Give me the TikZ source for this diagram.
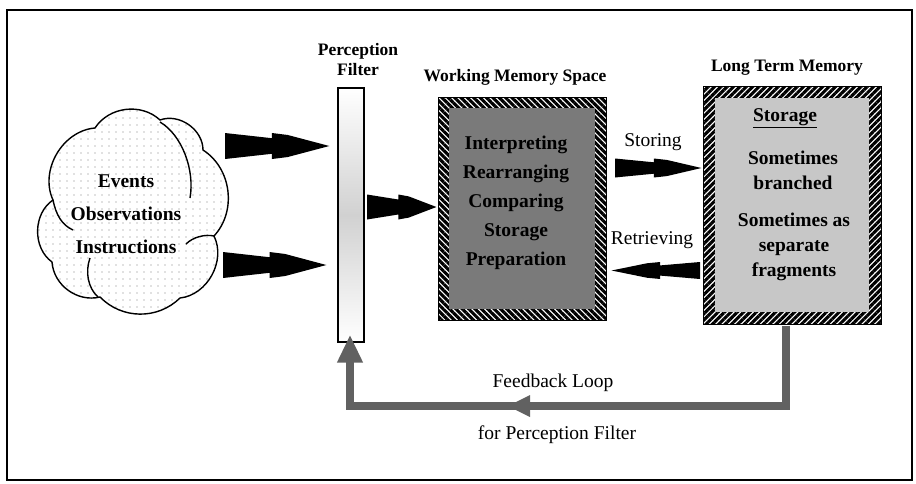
\documentclass[tikz,border=0pt]{standalone}
\usepackage{fontspec}
\setmainfont{Liberation Serif}
\usetikzlibrary{patterns,patterns.meta,arrows.meta,calc}
\newcommand\fatarrow[3]{%
  \fill[black] let \p1=(#1), \p2=(#2), \n1={\x2-\x1} in
    (\x1,\y1+#3pt) -- (\x1+0.45*\n1,\y1+0.6*#3pt) -- (\x1+0.45*\n1,\y1+#3pt)
    -- (\x1+0.6*\n1,\y1+0.85*#3pt) -- (\x2,\y1) -- (\x1+0.6*\n1,\y1-0.85*#3pt)
    -- (\x1+0.45*\n1,\y1-#3pt) -- (\x1+0.45*\n1,\y1-0.6*#3pt) -- (\x1,\y1-#3pt) -- cycle;}
\begin{document}
\begin{tikzpicture}[x=1pt,y=-1pt,
  titlelbl/.style={font=\bfseries\fontsize{17.5}{20}\selectfont, inner sep=0, align=center},
  boxtxt/.style={font=\bfseries\fontsize{19.5}{29}\selectfont, align=center, inner sep=0},
  plainlbl/.style={font=\fontsize{19.5}{22}\selectfont, inner sep=0},
  hatchbox/.style={draw, line width=0.8, inner sep=0, preaction={fill=white}},
  fbline/.style={line width=8, draw=black!62}]
\useasboundingbox (0,0) rectangle (916,483);
\draw[line width=2.5] (7,10) rectangle (912,480);

% cloud
\path[draw, line width=1.4, preaction={fill=white},
  pattern={Dots[distance=6.5pt, radius=0.6pt]}, pattern color=black!50]
 (53,200) to[bend left=55] (95,128) to[bend left=50] (160,120)
 to[bend left=55] (203,150) to[bend left=50] (214,236)
 to[bend left=55] (180,298) to[bend left=45] (100,297)
 to[bend left=50] (52,262) to[bend left=55] (53,200) -- cycle;
\draw[line width=1.4] (160,122) .. controls (182,135) and (195,170) .. (190,198);
\draw[line width=1.4] (53,200) .. controls (56,215) and (62,225) .. (73,230);
\draw[line width=1.4] (214,236) .. controls (205,234) and (193,237) .. (186,244);
\draw[line width=1.4] (90,258) .. controls (85,272) and (88,288) .. (98,297);
\node[boxtxt, font=\bfseries\fontsize{19.5}{33}\selectfont] (cloudtxt) at (126,214) {Events\\Observations\\Instructions};

% perception filter
\node[titlelbl] (pftitle) at (358,60) {Perception\\Filter};
\node[draw, line width=1.3, minimum width=26, minimum height=254, inner sep=0,
  top color=white, bottom color=white, middle color=black!18] (pf) at (351,215) {};

% working memory
\node[titlelbl] (wmtitle) at (515,77) {Working Memory Space};
\node[hatchbox, minimum width=168, minimum height=223,
  pattern={Lines[angle=-45,distance=4.5pt,line width=3.1pt]}] (wm) at (522,208.5) {};
\fill[black!52] ([shift={(13,13)}]wm.north west) rectangle ([shift={(-13,-13)}]wm.south east);
\node[boxtxt] (wmtext) at (516,203) {Interpreting\\Rearranging\\Comparing\\Storage\\Preparation};

% long term memory
\node[titlelbl] (ltmtitle) at (787,68) {Long Term Memory};
\node[hatchbox, minimum width=178, minimum height=238,
  pattern={Lines[angle=45,distance=4.5pt,line width=3.1pt]}] (ltm) at (792,205) {};
\fill[black!22] ([shift={(14,14)}]ltm.north west) rectangle ([shift={(-14,-14)}]ltm.south east);
\node[boxtxt] (stor) at (785,118) {\underline{Storage}};
\node[boxtxt, font=\bfseries\fontsize{19.5}{25}\selectfont] (branch) at (793,170) {Sometimes\\branched};
\node[boxtxt, font=\bfseries\fontsize{19.5}{25}\selectfont] (frag) at (794,247) {Sometimes as\\separate\\fragments};

% fat arrows
\coordinate (a1s) at (225,146);
\coordinate (a2s) at (223,265);
\fatarrow{a1s}{[xshift=-8]pf.west |- a1s}{13}
\fatarrow{a2s}{[xshift=-11]pf.west |- a2s}{13}
\coordinate (a3s) at (367,207);
\fatarrow{a3s}{wm.west |- a3s}{12.5}
\coordinate (a4s) at (615,168);
\fatarrow{a4s}{ltm.west |- a4s}{9.5}
\coordinate (a5s) at (700,270.5);
\fatarrow{a5s}{[xshift=4]wm.east |- a5s}{8.5}
\node[plainlbl] (storing) at (653,142) {Storing};
\node[plainlbl] (retr) at (652,240) {Retrieving};

% feedback loop
\coordinate (fbturn) at (350,406);
\draw[fbline, -{Triangle[width=24pt,length=28pt]}] ([xshift=-6]ltm.south) |- (fbturn) -- ([yshift=8]pf.south -| fbturn);
\fill[black!62] (530,395) -- (508,406) -- (530,417) -- cycle;
\node[plainlbl] (fbl) at (553,383) {Feedback Loop};
\node[plainlbl] (fbl2) at (557,435) {for Perception Filter};
\end{tikzpicture}
\end{document}
